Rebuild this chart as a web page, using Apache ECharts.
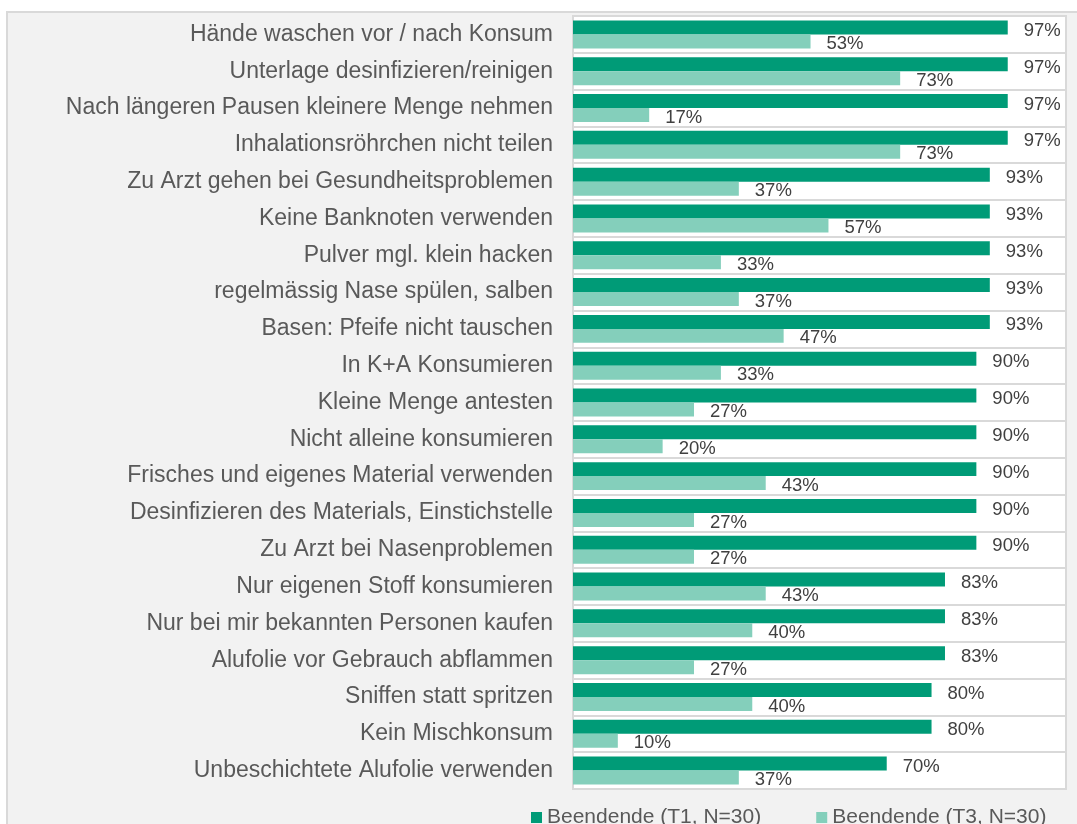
<!DOCTYPE html>
<html>
<head>
<meta charset="utf-8">
<script src="https://cdn.jsdelivr.net/npm/echarts@6/dist/echarts.min.js"></script>
<style>
html,body{margin:0;padding:0;background:#fff;overflow:hidden;}
#bg{position:absolute;left:6px;top:11px;width:1200px;height:900px;background:#f2f2f2;border:2px solid #d9d9d9;box-sizing:border-box;}
#chart{position:absolute;left:0;top:0;width:1077px;height:824px;}
</style>
</head>
<body>
<div id="bg"></div>
<div id="chart"></div>
<script>
const categories = [
  "Hände waschen vor / nach Konsum",
  "Unterlage desinfizieren/reinigen",
  "Nach längeren Pausen kleinere Menge nehmen",
  "Inhalationsröhrchen nicht teilen",
  "Zu Arzt gehen bei Gesundheitsproblemen",
  "Keine Banknoten verwenden",
  "Pulver mgl. klein hacken",
  "regelmässig Nase spülen, salben",
  "Basen: Pfeife nicht tauschen",
  "In K+A Konsumieren",
  "Kleine Menge antesten",
  "Nicht alleine konsumieren",
  "Frisches und eigenes Material verwenden",
  "Desinfizieren des Materials, Einstichstelle",
  "Zu Arzt bei Nasenproblemen",
  "Nur eigenen Stoff konsumieren",
  "Nur bei mir bekannten Personen kaufen",
  "Alufolie vor Gebrauch abflammen",
  "Sniffen statt spritzen",
  "Kein Mischkonsum",
  "Unbeschichtete Alufolie verwenden"
];
const seriesNames = ["Beendende (T1, N=30)", "Beendende (T3, N=30)"];
const t1Values = [97, 97, 97, 97, 93, 93, 93, 93, 93, 90, 90, 90, 90, 90, 90, 83, 83, 83, 80, 80, 70];
const t3Values = [53, 73, 17, 73, 37, 57, 33, 37, 47, 33, 27, 20, 43, 27, 27, 43, 40, 27, 40, 10, 37];

const font = "'Liberation Sans', Arial, sans-serif";
const chart = echarts.init(document.getElementById('chart'), null, {renderer: 'canvas'});
function labelStyle(dy) {
  return {
    show: true,
    position: 'right',
    distance: 16,
    offset: [0, dy],
    color: '#404040',
    fontSize: 18.5,
    fontFamily: font,
    formatter: p => p.value + '%'
  };
}
chart.setOption({
  backgroundColor: 'transparent',
  animation: false,
  grid: {
    left: 573, right: 11, top: 16, bottom: 35,
    show: true, backgroundColor: '#ffffff', borderColor: '#d9d9d9', borderWidth: 2,
    containLabel: false
  },
  xAxis: {
    type: 'value', min: 0, max: 110, show: false
  },
  yAxis: {
    type: 'category',
    data: categories,
    inverse: true,
    axisLine: {show: false},
    axisTick: {show: false},
    splitLine: {show: true, lineStyle: {color: '#d9d9d9', width: 2}},
    axisLabel: {color: '#595959', fontSize: 23, fontFamily: font, margin: 20}
  },
  legend: {
    left: 526, top: 802,
    itemWidth: 11, itemHeight: 11, itemGap: 55,
    icon: 'rect',
    textStyle: {color: '#595959', fontSize: 21, fontFamily: font},
    data: seriesNames
  },
  series: [
    {name: seriesNames[0], type: 'bar', data: t1Values, itemStyle: {color: '#009B77'},
     barGap: '0%', barCategoryGap: '24%', label: labelStyle(3.5)},
    {name: seriesNames[1], type: 'bar', data: t3Values, itemStyle: {color: '#84CFBB'},
     barGap: '0%', barCategoryGap: '24%', label: labelStyle(2.5)}
  ]
});
</script>
</body>
</html>
